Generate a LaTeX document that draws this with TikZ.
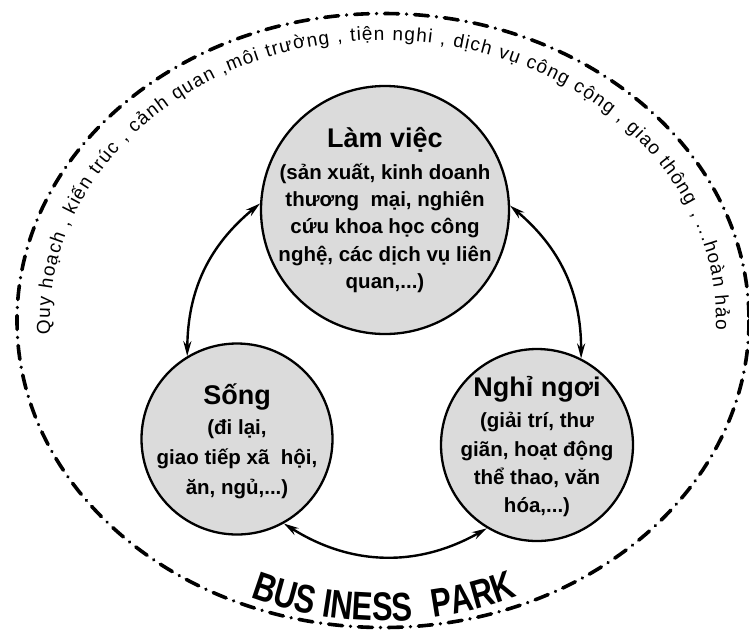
\documentclass[tikz,border=0pt]{standalone}
\usepackage{fontspec}
\setmainfont{Liberation Sans}
\newfontfamily\bpfont[FakeStretch=0.77]{Liberation Sans}
\usetikzlibrary{arrows.meta,decorations.text}
\newcommand\hubtitle[1]{{\fontsize{27}{27}\selectfont #1}}
\begin{document}
\begin{tikzpicture}[x=1pt,y=-1pt,
  hub/.style={circle, draw=black, line width=2.3pt, fill=black!14, inner sep=0pt},
  hubtext/.style={align=center, inner sep=0pt, font=\bfseries\fontsize{20.5}{#1}\selectfont},
  link/.style={line width=2.4pt, {Stealth[length=15pt,width=8pt]}-{Stealth[length=15pt,width=8pt]}},
  border/.style={line width=3.6pt, line cap=round, dash pattern=on 14pt off 8pt on 0.01pt off 8pt},
  bptext/.style={decorate, decoration={text along path, text align=left,
     text={|\bpfont\bfseries\fontsize{40}{40}\selectfont|#1}}}
]
\useasboundingbox (0,0) rectangle (749,630);
% outer dash-dot ellipse
\draw[border] (383,320.5) ellipse [x radius=366, y radius=307];
% text along the top
\path[decorate, decoration={text along path, text align=fit to path,
  text={|\fontsize{19}{19}\selectfont|Quy hoạch , kiến trúc , cảnh quan ,môi trường , tiện nghi , dịch vụ công cộng , giao thông , ...hoàn hảo}}]
  (383,320) ++(177:333 and 280) arc[start angle=177, end angle=362, x radius=333, y radius=280];
% BUSINESS PARK along the bottom
\path[bptext={BUS INESS}]
  (383,320) ++(113:340 and 301) arc[start angle=113, end angle=70, x radius=340, y radius=301];
\path[bptext={PARK}]
  (383,320) ++(81.5:340 and 301) arc[start angle=81.5, end angle=50, x radius=340, y radius=301];
% circles
\node[hub, minimum size=248pt] (lam) at (385,210) {};
\node[hub, minimum size=191pt] (song) at (237,439) {};
\node[hub, minimum size=192pt] (nghi) at (537,445) {};
% circle texts
\node[hubtext=27.2] (lamtext) at (385,210) {\hubtitle{Làm việc}\\[4.5pt]
  (sản xuất, kinh doanh\\ thương \ mại, nghiên\\ cứu khoa học công\\ nghệ, các dịch vụ liên\\ quan,...)};
\node[hubtext=30] (songtext) at (237,441) {\hubtitle{Sống}\\
  (đi lại,\\ giao tiếp xã \ hội,\\ ăn, ngủ,...)};
\node[hubtext=28.3] (nghitext) at (537,446.5) {\hubtitle{Nghỉ ngơi}\\[3.5pt]
  (giải trí, thư\\ giãn, hoạt động\\ thể thao, văn\\ hóa,...)};
% connectors
\draw[link] (lam.177) to[bend right=25] (song.121);
\draw[link] (lam.2) to[bend left=25] (nghi.63);
\draw[link] (song.-61) to[bend right=31] (nghi.239);
\end{tikzpicture}
\end{document}
